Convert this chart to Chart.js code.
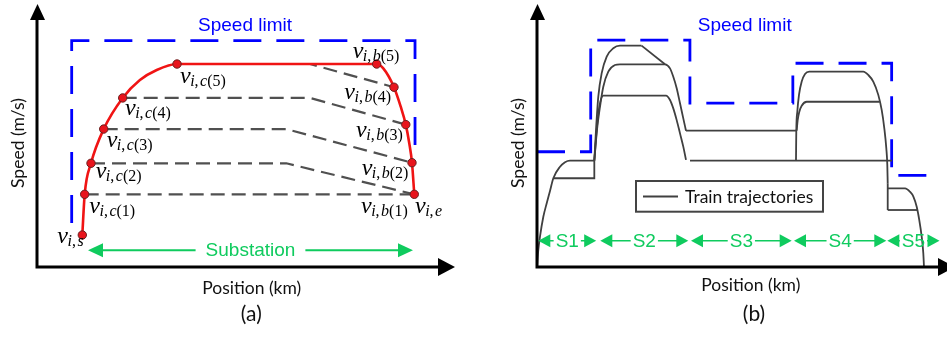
<!DOCTYPE html>
<html>
<head>
<meta charset="utf-8">
<script src="https://cdn.jsdelivr.net/npm/chart.js@4.4.1/dist/chart.umd.min.js"></script>
<style>
  html, body { margin: 0; padding: 0; background: #fff; }
  #wrap { position: relative; width: 947px; height: 337px; overflow: hidden; }
  canvas { position: absolute; top: 0; }
  #cA { left: 0; }
  #cB { left: 470px; }
</style>
</head>
<body>
<div id="wrap">
  <canvas id="cA" width="470" height="337"></canvas>
  <canvas id="cB" width="477" height="337"></canvas>
</div>
<script>
// ---------- (a) one run across a single substation ----------
// labelled switching points on the red run (position, speed)
const keyTags  = ['s', 'c(1)', 'c(2)', 'c(3)', 'c(4)', 'c(5)', 'b(5)', 'b(4)', 'b(3)', 'b(2)', 'e'];
const keyPos   = [11.05, 11.63, 13.17, 16.27, 20.9, 34.15, 82.85, 87.07, 89.95, 91.46, 92.02];
const keySpeed = [12.55, 28.5, 40.67, 54.1, 66.3, 79.6, 79.6, 70.5, 55.84, 40.9, 28.5];
// extra samples along the bends of the red run
const bendPos   = [25.1, 29.2, 84.46, 88.71, 90.8];
const bendSpeed = [73.3, 77.25, 77.9, 62.86, 48.5];
// coasting alternatives: start point, end of cruising, end point
const coastStart = ['c(1)', 'c(2)', 'c(3)', 'c(4)', 'c(5)'];
const coastKnee  = [null, 60.8, 60.8, 66.6, 66.6];
const coastEnd   = ['e', 'e', 'b(2)', 'b(3)', 'b(4)'];
// speed limit of the substation
const limitAPos   = [8.46, 8.46, 92.2, 92.2];
const limitASpeed = [17.25, 88.75, 88.75, 44.7];
// substation extent
const substationSpan  = [12.44, 91.7];
const substationLevel = 6.6;
// math labels: tag, point it belongs to
const labelTags = ['s', 'c(1)', 'c(2)', 'c(3)', 'c(4)', 'c(5)', 'b(5)', 'b(4)', 'b(3)', 'b(2)', 'b(1)', 'e'];
const labelHost = ['s', 'c(1)', 'c(2)', 'c(3)', 'c(4)', 'c(5)', 'b(5)', 'b(4)', 'b(3)', 'b(2)', 'e', 'e'];

// ---------- (b) trajectories over five substations ----------
const limitBPos   = [0, 13.1, 13.1, 37.3, 37.3, 62.4, 62.4, 86.5, 86.5, 98.3];
const limitBSpeed = [45.2, 45.2, 89.0, 89.0, 64.3, 64.3, 79.9, 79.9, 35.9, 35.9];
const sectionNames = ['S1', 'S2', 'S3', 'S4', 'S5'];
const sectionStart = [0.32, 15.44, 37.56, 62.68, 85.44];
const sectionEnd   = [14.44, 36.9, 62.12, 85.2, 98.17];
const sectionLevel = 10.3;
// curved runs: accelerate, cruise, brake  [position, speed]
const runS1Upper = [[0, 0], [0.32, 6.67], [0.73, 11.9], [1.54, 19.7], [2.37, 25.0], [3.17, 29.8], [3.98, 34.8], [5.61, 39.3], [6.83, 41.1], [8.05, 41.7], [13.98, 41.7]];
const runS2Top   = [[13.98, 41.7], [14.39, 53.7], [14.95, 66.8], [15.78, 76.0], [17.0, 82.5], [18.61, 85.8], [20.24, 86.8], [25.5, 86.8]];
const runS2Mid   = [[13.98, 41.7], [14.63, 53.7], [15.37, 62.9], [16.17, 70.7], [17.39, 76.6], [19.02, 79.2], [20.24, 79.5], [31.22, 79.5], [32.44, 77.9], [33.24, 74.6], [34.07, 70.1], [34.88, 64.2], [35.68, 58.3], [36.34, 53.45]];
const runS2Low   = [[13.98, 41.7], [14.56, 53.7], [15.2, 62.9], [16.17, 67.2], [31.46, 67.2], [32.44, 65.5], [33.24, 62.2], [34.07, 57.6], [34.88, 52.4], [35.68, 47.2], [36.34, 42.0]];
const runS4Top   = [[63.17, 41.7], [63.24, 53.1], [63.49, 60.9], [63.9, 67.5], [64.56, 72.7], [65.37, 75.7], [66.41, 76.6], [79.59, 76.6], [80.8, 75.3], [82.02, 72.7], [83.24, 67.5], [84.07, 61.6], [84.71, 54.4], [85.2, 46.5], [85.44, 40.0], [85.54, 32.8]];
const runS4Mid   = [[63.34, 53.45], [63.58, 57.6], [63.98, 60.9], [64.56, 63.25], [65.78, 64.8], [83.6, 64.8]];
const runS5Upper = [[85.54, 30.86], [89.76, 30.86], [90.98, 29.5], [91.8, 27.6], [92.61, 23.6], [93.24, 18.4], [93.83, 11.9], [94.22, 5.4], [94.39, 0]];
// straight runs: held speeds and switches
const runS1Lower = [[3.98, 34.8], [13.98, 34.8], [13.98, 41.7]];
const runS2Coast = [[25.5, 86.8], [31.22, 79.5]];
const runS3Upper = [[36.34, 53.45], [63.34, 53.45]];
const runS3Lower = [[37.32, 41.7], [86.59, 41.7]];
const runS4Drop  = [[85.54, 32.8], [85.54, 22.35]];
const runS5Lower = [[85.54, 22.35], [92.8, 22.35]];

// ---------- styles ----------
const BLUE = '#0000ff', RED = '#f01414', GREEN = '#0fcb5e', GREY = '#505050', TRAJ = '#404040';
const SANS = '"Liberation Sans", Arial, sans-serif';
const TITLE = 'Lato, "Open Sans", sans-serif';

const xy = (p, s) => p.map((x, i) => ({ x, y: s[i] }));
const pairs = run => run.map(([x, y]) => ({ x, y }));
const keyXY = tag => { const i = keyTags.indexOf(tag); return { x: keyPos[i], y: keySpeed[i] }; };

function arrowHead(ctx, tx, ty, ux, uy, len, hw) {
  const bx = tx - ux * len, by = ty - uy * len;
  ctx.beginPath();
  ctx.moveTo(tx, ty);
  ctx.lineTo(bx - uy * hw, by + ux * hw);
  ctx.lineTo(bx + uy * hw, by - ux * hw);
  ctx.closePath();
  ctx.fill();
}

function drawAxes(chart) {
  const { ctx, chartArea: a } = chart;
  const xTip = a.right + 8, yTip = a.top - 8;
  ctx.save();
  ctx.strokeStyle = '#000'; ctx.fillStyle = '#000'; ctx.lineWidth = 3;
  ctx.beginPath();
  ctx.moveTo(a.left, a.bottom + 1.5); ctx.lineTo(a.left, yTip + 12);
  ctx.moveTo(a.left - 1.5, a.bottom); ctx.lineTo(xTip - 12, a.bottom);
  ctx.stroke();
  arrowHead(ctx, a.left + 0.5, yTip, 0, -1, 16, 7.5);
  arrowHead(ctx, xTip, a.bottom, 1, 0, 17, 9);
  ctx.restore();
}

function drawTitles(chart, t) {
  const { ctx, chartArea: a } = chart;
  const cx = (a.left + a.right) / 2;
  ctx.save();
  ctx.fillStyle = '#111';
  ctx.textAlign = 'center'; ctx.textBaseline = 'alphabetic';
  ctx.font = '17.5px ' + TITLE;
  ctx.fillText('Position (km)', cx + t.xShift, t.xBase);
  ctx.font = '21px ' + TITLE;
  ctx.fillText(t.tag, cx + t.tagShift, 321);
  ctx.translate(a.left - 13, 143);
  ctx.rotate(-Math.PI / 2);
  ctx.font = '17.5px ' + TITLE;
  ctx.fillText('Speed (m/s)', 0, 0);
  ctx.restore();
  ctx.save();
  ctx.fillStyle = BLUE; ctx.textAlign = 'center';
  ctx.font = '19px ' + SANS;
  ctx.fillText('Speed limit', t.limitX, 30.7);
  ctx.restore();
}

function drawSpan(chart, from, to, level, text, o) {
  const { ctx } = chart;
  const sx = chart.scales.x, sy = chart.scales.y;
  const x1 = sx.getPixelForValue(from), x2 = sx.getPixelForValue(to), y = sy.getPixelForValue(level);
  ctx.save();
  ctx.font = '19px ' + SANS;
  const tw = ctx.measureText(text).width, cx = (x1 + x2) / 2;
  ctx.strokeStyle = GREEN; ctx.fillStyle = GREEN; ctx.lineWidth = o.lw;
  ctx.beginPath();
  const l1 = x1 + o.head - 1, l2 = cx - tw / 2 - o.gap;
  const r1 = cx + tw / 2 + o.gap, r2 = x2 - o.head + 1;
  if (l2 > l1) { ctx.moveTo(l1, y); ctx.lineTo(l2, y); }
  if (r2 > r1) { ctx.moveTo(r1, y); ctx.lineTo(r2, y); }
  ctx.stroke();
  arrowHead(ctx, x1, y, -1, 0, o.head, o.hw);
  arrowHead(ctx, x2, y, 1, 0, o.head, o.hw);
  ctx.textAlign = 'center'; ctx.textBaseline = 'alphabetic';
  ctx.fillText(text, cx, y + 6.3);
  ctx.restore();
}

// v with a subscript such as  i,c(3)
function drawV(ctx, x, y, tag) {
  const m = tag.match(/^([a-z])(\(\d\))?$/);
  ctx.font = 'italic 24px "Liberation Serif", serif';
  ctx.fillText('v', x, y);
  let cx = x + ctx.measureText('v').width - 0.5;
  const parts = [['i', true], [',', false], [m[1], true]];
  if (m[2]) parts.push([m[2], false]);
  for (const [t, it] of parts) {
    ctx.font = (it ? 'italic ' : '') + '16px "Liberation Serif", serif';
    ctx.fillText(t, cx, y + 3);
    cx += ctx.measureText(t).width + (t === ',' ? 1.5 : 0);
  }
}

// where each v label sits relative to its point, px (left of v, baseline)
const labelShift = {
  's': [-25, 8], 'c(1)': [4.6, 18.7], 'c(2)': [4.7, 15], 'c(3)': [3, 17.7], 'c(4)': [2.3, 17],
  'c(5)': [3, 19.3], 'b(5)': [-24, -5.7], 'b(4)': [-49.7, 11.7], 'b(3)': [-49.7, 12.3],
  'b(2)': [-50.3, 12.3], 'b(1)': [-53.3, 19], 'e': [0.7, 19]
};

const baseOptions = (pad) => ({
  responsive: false,
  animation: false,
  events: [],
  layout: { autoPadding: false, padding: pad },
  scales: {
    x: { type: 'linear', min: 0, max: 100, display: false },
    y: { type: 'linear', min: 0, max: 100, display: false }
  },
  plugins: { legend: { display: false }, tooltip: { enabled: false } }
});

// ---------- chart (a) ----------
const redRun = xy(keyPos, keySpeed).concat(xy(bendPos, bendSpeed)).sort((p, q) => p.x - q.x);
const coastSets = coastStart.map((s, i) => {
  const a = keyXY(s), b = keyXY(coastEnd[i]);
  const pts = [a];
  if (coastKnee[i] !== null) pts.push({ x: coastKnee[i], y: a.y });
  pts.push(b);
  return { label: 'coast ' + (i + 1), data: pts, showLine: true, borderColor: GREY, borderWidth: 2.2,
           borderDash: [14, 7], pointRadius: 0, clip: false };
});

new Chart(document.getElementById('cA'), {
  type: 'scatter',
  data: {
    datasets: [
      { label: 'switching points', data: xy(keyPos, keySpeed), showLine: false, pointRadius: 4.2,
        pointBackgroundColor: '#e8141c', pointBorderColor: '#6a2020', pointBorderWidth: 1, clip: false },
      { label: 'speed profile', data: redRun, showLine: true, borderColor: RED, borderWidth: 2.6,
        cubicInterpolationMode: 'monotone', pointRadius: 0, clip: false },
      ...coastSets,
      { label: 'Speed limit', data: xy(limitAPos, limitASpeed), showLine: true, borderColor: BLUE,
        borderWidth: 2.8, borderDash: [28, 15], pointRadius: 0, clip: false }
    ]
  },
  options: baseOptions({ left: 37, right: 23, top: 12, bottom: 70 }),
  plugins: [{
    id: 'panelA',
    afterDraw(chart) {
      const { ctx } = chart;
      drawAxes(chart);
      drawTitles(chart, { xShift: 9.7, xBase: 294, tag: '(a)', tagShift: 9.3, limitX: 245 });
      drawSpan(chart, substationSpan[0], substationSpan[1], substationLevel, 'Substation',
               { lw: 2, head: 15, hw: 7, gap: 10 });
      const pts = chart.getDatasetMeta(0).data;
      ctx.save();
      ctx.fillStyle = '#000'; ctx.textAlign = 'left'; ctx.textBaseline = 'alphabetic';
      labelTags.forEach((tag, i) => {
        const p = pts[keyTags.indexOf(labelHost[i])];
        const [dx, dy] = labelShift[tag];
        drawV(ctx, p.x + dx, p.y + dy, tag);
      });
      ctx.restore();
    }
  }]
});

// ---------- chart (b) ----------
const curved = [runS1Upper, runS2Top, runS2Mid, runS2Low, runS4Top, runS4Mid, runS5Upper];
const straight = [runS1Lower, runS2Coast, runS3Upper, runS3Lower, runS4Drop, runS5Lower];
const trajStyle = { showLine: true, borderColor: TRAJ, borderWidth: 1.8, pointRadius: 0, clip: false };

new Chart(document.getElementById('cB'), {
  type: 'scatter',
  data: {
    datasets: [
      ...curved.map(r => ({ label: 'Train trajectories', data: pairs(r), cubicInterpolationMode: 'monotone', ...trajStyle })),
      ...straight.map(r => ({ label: 'Train trajectories', data: pairs(r), ...trajStyle })),
      { label: 'Speed limit', data: xy(limitBPos, limitBSpeed), showLine: true, borderColor: BLUE,
        borderWidth: 2.8, borderDash: [28, 15], pointRadius: 0, clip: false }
    ]
  },
  options: baseOptions({ left: 67, right: 0, top: 12, bottom: 70 }),
  plugins: [{
    id: 'panelB',
    afterDraw(chart) {
      const { ctx } = chart;
      drawAxes(chart);
      drawTitles(chart, { xShift: 8.8, xBase: 290.7, tag: '(b)', tagShift: 12, limitX: 274.7 });
      sectionNames.forEach((n, i) =>
        drawSpan(chart, sectionStart[i], sectionEnd[i], sectionLevel, n, { lw: 1.6, head: 12, hw: 6.5, gap: 2 }));
      // legend box
      const ds = chart.data.datasets[0];
      ctx.save();
      ctx.fillStyle = '#fff';
      ctx.fillRect(166, 181, 187, 30.7);
      ctx.strokeStyle = '#444'; ctx.lineWidth = 2;
      ctx.strokeRect(166, 181, 187, 30.7);
      ctx.strokeStyle = ds.borderColor; ctx.lineWidth = ds.borderWidth;
      ctx.beginPath(); ctx.moveTo(173, 196.5); ctx.lineTo(208, 196.5); ctx.stroke();
      ctx.fillStyle = '#111'; ctx.font = '17.5px ' + TITLE; ctx.textBaseline = 'alphabetic';
      ctx.fillText(ds.label, 215, 202.5);
      ctx.restore();
    }
  }]
});
</script>
</body>
</html>
